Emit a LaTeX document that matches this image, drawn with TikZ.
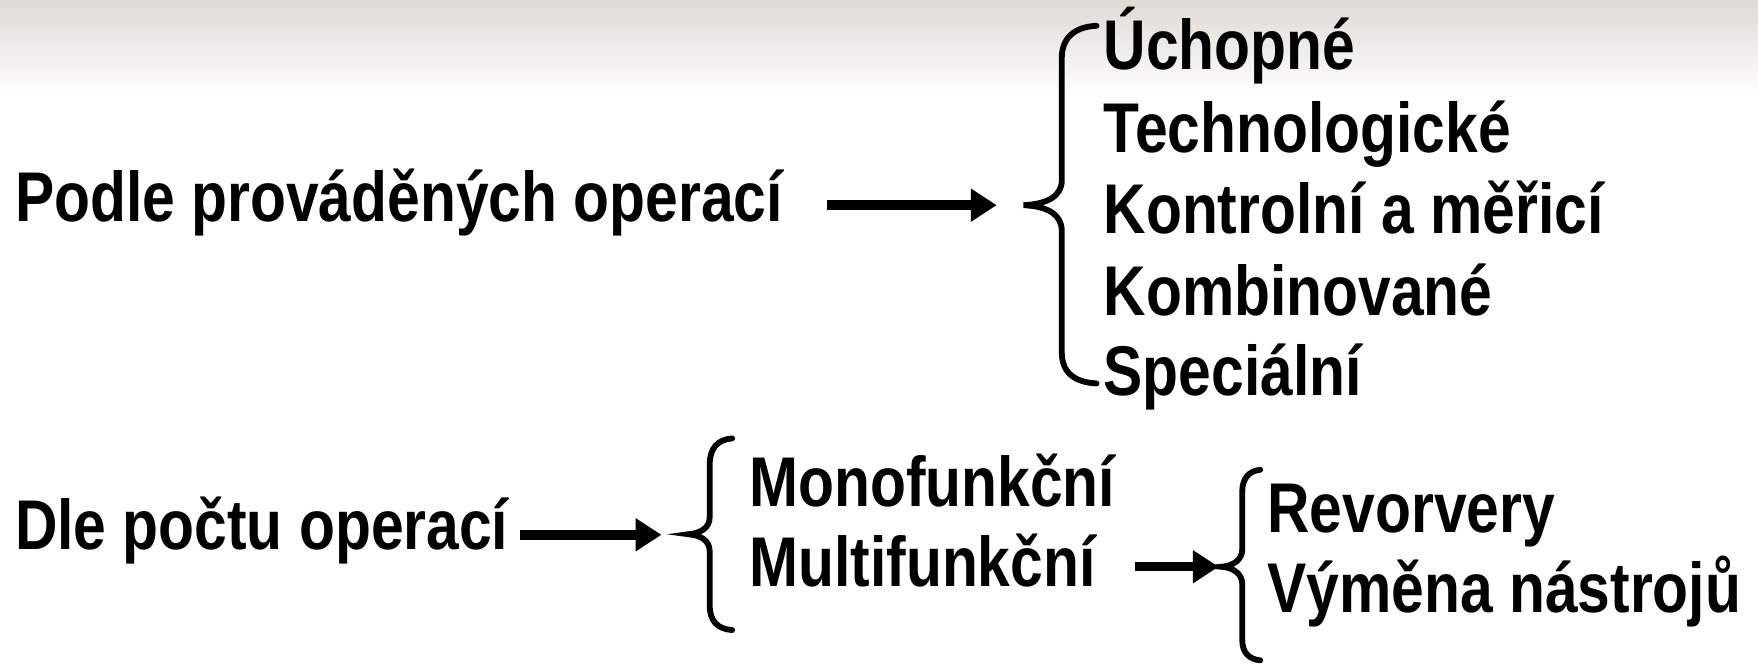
\documentclass[tikz,border=0pt]{standalone}
\usepackage{fontspec}
\setmainfont{Liberation Sans}[FakeStretch=0.835]
\usetikzlibrary{arrows.meta}
\definecolor{gradtop}{RGB}{222,218,212}
\begin{document}
\begin{tikzpicture}[x=0.5pt,y=-0.5pt,
  lbl/.style={anchor=base west,inner sep=0pt,font=\fontsize{31.4}{36}\selectfont\bfseries},
  arr/.style={line width=4.2pt,-{Triangle[length=11.5pt,width=14pt]}},
  brace/.style={line width=2.6pt,line cap=round}]
\useasboundingbox (0,0) rectangle (1568,592);
\fill[white] (0,0) rectangle (1568,592);
\shade[top color=gradtop,bottom color=white] (0,0) rectangle (1568,86);

% texts
\node[lbl] (podle) at (13,197.5) {Podle prováděných operací};
\node[lbl] (uch) at (984,62) {Úchopné};
\node[lbl] (tech) at (984,136) {Technologické};
\node[lbl] (kontr) at (984,208) {Kontrolní a měřicí};
\node[lbl] (komb) at (984,281) {Kombinované};
\node[lbl] (spec) at (984,353) {Speciální};
\node[lbl] (dle) at (13,490.5) {Dle počtu operací};
\node[lbl] (mono) at (668,452) {Monofunkční};
\node[lbl] (multi) at (668,523.5) {Multifunkční};
\node[lbl] (rev) at (1130,475) {Revorvery};
\node[lbl] (vym) at (1130,546.5) {Výměna nástrojů};

% brace tips
\coordinate (b1) at (913,183);
\coordinate (b2) at (614,476.5);
\coordinate (b3) at (1089,505.5);

% braces
\draw[brace] (978,23) .. controls (958,24) and (947,34) .. (947,52)
  -- (947,161) .. controls (947,175) and (934,182) .. (b1)
  .. controls (934,184) and (947,191) .. (947,206)
  -- (947,314) .. controls (947,332) and (958,341) .. (978,342);
\draw[brace] (653,391) .. controls (640,392) and (633,400) .. (633,414)
  -- (633,461) .. controls (633,471) and (625,475.5) .. (b2)
  .. controls (625,477.5) and (633,482) .. (633,492)
  -- (633,540) .. controls (633,554) and (640,561) .. (653,562);
\draw[brace] (1124,419) .. controls (1114,420) and (1108,427) .. (1108,438)
  -- (1108,490) .. controls (1108,499) and (1100,505) .. (b3)
  .. controls (1100,506) and (1108,512) .. (1108,521)
  -- (1108,571) .. controls (1108,582) and (1114,588) .. (1124,589);

% arrows
\coordinate (a1s) at (738,183);
\coordinate (a1e) at (889,183);
\coordinate (a2s) at (464,477);
\coordinate (a2e) at (590,477);
\coordinate (a3s) at (1012,505.5);
\coordinate (a3e) at (1087,505.5);
\draw[arr] (a1s) -- (a1e);
\draw[arr] (a2s) -- (a2e);
\draw[arr] (a3s) -- (a3e);
\end{tikzpicture}
\end{document}
